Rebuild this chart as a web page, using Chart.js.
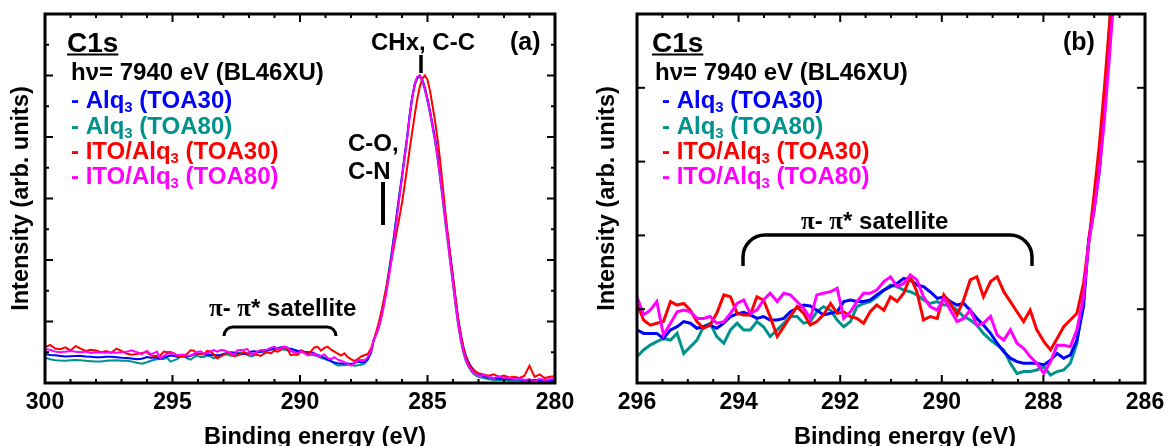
<!DOCTYPE html>
<html>
<head>
<meta charset="utf-8">
<script src="https://cdn.jsdelivr.net/npm/chart.js@4.4.0/dist/chart.umd.min.js"></script>
<style>
  html, body { margin: 0; padding: 0; background: #fff; }
  #wrap { position: relative; width: 1172px; height: 446px; overflow: hidden; }
  canvas { position: absolute; top: 0; }
  #panelA { left: 0; }
  #panelB { left: 590px; }
</style>
</head>
<body>
<div id="wrap">
  <canvas id="panelA" width="590" height="446"></canvas>
  <canvas id="panelB" width="582" height="446"></canvas>
</div>
<script>
// binding energy grid (eV): flat region, satellite region, main peak
const energy = [
  300.0, 299.8, 299.6, 299.4, 299.2, 299.0, 298.8, 298.6, 298.4, 298.2,
  298.0, 297.8, 297.6, 297.4, 297.2, 297.0, 296.8, 296.6, 296.4, 296.2,
  296.00, 295.87, 295.74, 295.61, 295.48, 295.34, 295.21, 295.08, 294.95, 294.82,
  294.69, 294.56, 294.43, 294.29, 294.16, 294.03, 293.90, 293.77, 293.64, 293.51,
  293.38, 293.24, 293.11, 292.98, 292.85, 292.72, 292.59, 292.46, 292.33, 292.19,
  292.06, 291.93, 291.80, 291.67, 291.54, 291.41, 291.28, 291.14, 291.01, 290.88,
  290.75, 290.62, 290.49, 290.36, 290.23, 290.09, 289.96, 289.83, 289.70, 289.57,
  289.44, 289.31, 289.18, 289.04, 288.91, 288.78, 288.65, 288.52, 288.39, 288.26,
  288.13, 287.99, 287.86, 287.73, 287.60, 287.47, 287.34, 287.21, 287.11,
  287.0, 286.9, 286.8, 286.7, 286.6, 286.5, 286.4, 286.3, 286.2, 286.1,
  286.0, 285.9, 285.8, 285.7, 285.6, 285.5, 285.4, 285.3, 285.2, 285.1,
  285.0, 284.9, 284.8, 284.7, 284.6, 284.5, 284.4, 284.3, 284.2, 284.1,
  284.0, 283.9, 283.8, 283.7, 283.6, 283.5, 283.4, 283.3, 283.2, 283.1,
  283.0, 282.8, 282.6, 282.4, 282.2, 282.0, 281.8, 281.6, 281.4, 281.2,
  281.0, 280.8, 280.6, 280.4, 280.2, 280.0
];

// Alq3 (TOA30)
const alqToa30 = [
  0.47, 0.455, 0.45, 0.44, 0.43, 0.435, 0.44, 0.438, 0.43, 0.425,
  0.42, 0.418, 0.425, 0.428, 0.42, 0.41, 0.405, 0.40, 0.385, 0.395,
  0.421, 0.410, 0.410, 0.410, 0.394, 0.421, 0.431, 0.447, 0.442, 0.426,
  0.431, 0.436, 0.426, 0.442, 0.463, 0.471, 0.476, 0.468, 0.457, 0.463,
  0.452, 0.452, 0.457, 0.478, 0.489, 0.499, 0.496, 0.483, 0.468, 0.473,
  0.478, 0.510, 0.515, 0.510, 0.510, 0.515, 0.531, 0.546, 0.557, 0.567,
  0.583, 0.578, 0.562, 0.557, 0.541, 0.520, 0.525, 0.510, 0.499, 0.504,
  0.483, 0.457, 0.436, 0.410, 0.379, 0.352, 0.332, 0.321, 0.316, 0.316,
  0.316, 0.311, 0.326, 0.347, 0.332, 0.342, 0.389, 0.494, 0.704,
  0.80, 0.92, 1.10, 1.32, 1.56, 1.82, 2.10, 2.42, 2.75, 3.05,
  3.35, 3.67, 3.98, 4.35, 4.65, 4.86, 4.97, 5.00, 4.93, 4.80,
  4.62, 4.42, 4.20, 3.98, 3.70, 3.38, 3.05, 2.70, 2.38, 2.05,
  1.72, 1.38, 1.05, 0.80, 0.60, 0.45, 0.35, 0.27, 0.22, 0.18,
  0.15, 0.11, 0.09, 0.08, 0.07, 0.07, 0.06, 0.06, 0.06, 0.05,
  0.05, 0.05, 0.05, 0.04, 0.04, 0.04
];

// Alq3 (TOA80)
const alqToa80 = [
  0.41, 0.385, 0.37, 0.365, 0.362, 0.37, 0.375, 0.37, 0.36, 0.355,
  0.348, 0.35, 0.36, 0.365, 0.37, 0.36, 0.36, 0.35, 0.33, 0.315,
  0.337, 0.358, 0.373, 0.384, 0.394, 0.389, 0.410, 0.347, 0.368, 0.389,
  0.431, 0.442, 0.400, 0.379, 0.421, 0.442, 0.421, 0.421, 0.447, 0.431,
  0.400, 0.421, 0.442, 0.463, 0.463, 0.442, 0.447, 0.478, 0.494, 0.483,
  0.452, 0.431, 0.447, 0.494, 0.504, 0.510, 0.525, 0.546, 0.562, 0.557,
  0.546, 0.541, 0.531, 0.515, 0.504, 0.510, 0.499, 0.499, 0.483, 0.463,
  0.452, 0.436, 0.410, 0.389, 0.373, 0.358, 0.316, 0.284, 0.290, 0.290,
  0.295, 0.305, 0.279, 0.290, 0.295, 0.316, 0.379, 0.525, 0.693,
  0.82, 0.96, 1.15, 1.37, 1.60, 1.86, 2.14, 2.45, 2.77, 3.08,
  3.38, 3.70, 4.00, 4.35, 4.63, 4.84, 4.95, 4.98, 4.90, 4.76,
  4.58, 4.38, 4.15, 3.92, 3.63, 3.30, 2.96, 2.60, 2.27, 1.93,
  1.60, 1.26, 0.95, 0.70, 0.50, 0.36, 0.27, 0.20, 0.15, 0.12,
  0.10, 0.08, 0.06, 0.05, 0.05, 0.05, 0.04, 0.04, 0.04, 0.03,
  0.03, 0.03, 0.03, 0.03, 0.03, 0.03
];

// ITO/Alq3 (TOA30)
const itoToa30 = [
  0.58, 0.62, 0.56, 0.55, 0.58, 0.53, 0.60, 0.56, 0.52, 0.54,
  0.53, 0.50, 0.52, 0.49, 0.56, 0.52, 0.48, 0.46, 0.47, 0.49,
  0.504, 0.452, 0.436, 0.442, 0.447, 0.510, 0.499, 0.504, 0.483, 0.447,
  0.426, 0.436, 0.473, 0.531, 0.525, 0.473, 0.468, 0.468, 0.525, 0.515,
  0.463, 0.400, 0.431, 0.463, 0.494, 0.473, 0.436, 0.447, 0.468, 0.504,
  0.473, 0.478, 0.463, 0.457, 0.442, 0.478, 0.499, 0.483, 0.525, 0.510,
  0.536, 0.588, 0.541, 0.452, 0.463, 0.457, 0.531, 0.504, 0.468, 0.515,
  0.578, 0.588, 0.525, 0.573, 0.588, 0.541, 0.510, 0.478, 0.447, 0.483,
  0.421, 0.384, 0.358, 0.394, 0.431, 0.452, 0.473, 0.567, 0.693,
  0.85, 1.00, 1.18, 1.38, 1.58, 1.80, 2.02, 2.25, 2.48, 2.70,
  2.93, 3.20, 3.50, 3.80, 4.08, 4.36, 4.62, 4.82, 4.95, 5.00,
  4.93, 4.75, 4.50, 4.25, 3.95, 3.60, 3.20, 2.78, 2.40, 2.05,
  1.72, 1.38, 1.05, 0.80, 0.58, 0.42, 0.32, 0.25, 0.21, 0.18,
  0.16, 0.14, 0.12, 0.14, 0.10, 0.12, 0.09, 0.10, 0.08, 0.12,
  0.28, 0.10, 0.14, 0.08, 0.10, 0.11
];

// ITO/Alq3 (TOA80)
const itoToa80 = [
  0.55, 0.54, 0.51, 0.50, 0.51, 0.52, 0.51, 0.50, 0.51, 0.49,
  0.50, 0.495, 0.49, 0.50, 0.49, 0.50, 0.51, 0.53, 0.50, 0.47,
  0.525, 0.468, 0.483, 0.510, 0.405, 0.442, 0.478, 0.483, 0.478, 0.457,
  0.457, 0.463, 0.442, 0.447, 0.473, 0.504, 0.515, 0.473, 0.483, 0.515,
  0.536, 0.510, 0.536, 0.531, 0.510, 0.489, 0.457, 0.531, 0.536, 0.541,
  0.552, 0.457, 0.478, 0.510, 0.536, 0.536, 0.546, 0.573, 0.588, 0.557,
  0.567, 0.594, 0.578, 0.525, 0.494, 0.483, 0.520, 0.483, 0.447, 0.457,
  0.483, 0.436, 0.442, 0.463, 0.405, 0.389, 0.421, 0.379, 0.363, 0.337,
  0.316, 0.284, 0.321, 0.373, 0.373, 0.368, 0.421, 0.525, 0.693,
  0.80, 0.92, 1.08, 1.28, 1.50, 1.76, 2.05, 2.37, 2.70, 3.02,
  3.33, 3.65, 3.97, 4.33, 4.64, 4.86, 4.98, 4.99, 4.92, 4.78,
  4.60, 4.40, 4.17, 3.94, 3.66, 3.33, 3.00, 2.64, 2.30, 1.95,
  1.62, 1.28, 0.97, 0.72, 0.52, 0.38, 0.28, 0.22, 0.17, 0.15,
  0.12, 0.13, 0.10, 0.08, 0.11, 0.08, 0.09, 0.06, 0.07, 0.05,
  0.06, 0.03, 0.07, 0.05, 0.06, 0.07
];

const seriesLabels = ['Alq3 (TOA30)', 'Alq3 (TOA80)', 'ITO/Alq3 (TOA30)', 'ITO/Alq3 (TOA80)'];
const xTicksA = [300, 295, 290, 285, 280];
const xTicksB = [296, 294, 292, 290, 288, 286];

const SANS = '"Liberation Sans", Arial, Helvetica, sans-serif';
const SERIF = '"Liberation Serif", "Times New Roman", serif';
const BLUE = '#0000ff', TEAL = '#00928c', RED = '#ff0000', MAGENTA = '#ff00ff';

// panel (b) is a vertical zoom of the same spectra
const yMinB = 0.254, yStepB = 0.232;

function bold(size, fam) { return 'bold ' + size + 'px ' + (fam || SANS); }

function drawRich(ctx, x, y, parts, align) {
  let w = 0;
  parts.forEach(p => { ctx.font = p[1]; w += ctx.measureText(p[0]).width; });
  let cx = align === 'center' ? x - w / 2 : x;
  parts.forEach(p => {
    ctx.font = p[1];
    ctx.fillStyle = p[2] || '#000';
    ctx.fillText(p[0], cx, y + (p[3] || 0));
    cx += ctx.measureText(p[0]).width;
  });
  return w;
}

function legendLine(ctx, x, y, prefix, suffix, color) {
  drawRich(ctx, x, y, [
    ['- ' + prefix, bold(24), color],
    ['3', bold(15), color, 4],
    [' ' + suffix, bold(24), color]
  ]);
}

function headerBlock(ctx, cx, hx, lx) {
  ctx.textAlign = 'left';
  ctx.textBaseline = 'alphabetic';
  ctx.font = bold(28);
  ctx.fillStyle = '#000';
  ctx.fillText('C1s', cx, 52);
  const w = ctx.measureText('C1s').width;
  ctx.lineWidth = 2;
  ctx.beginPath(); ctx.moveTo(cx, 54.5); ctx.lineTo(cx + w, 54.5); ctx.stroke();
  ctx.font = bold(24);
  ctx.fillText('h\u03bd= 7940 eV (BL46XU)', hx, 80);
  legendLine(ctx, lx, 108, 'Alq', '(TOA30)', BLUE);
  legendLine(ctx, lx, 134, 'Alq', '(TOA80)', TEAL);
  legendLine(ctx, lx, 159, 'ITO/Alq', '(TOA30)', RED);
  legendLine(ctx, lx, 184, 'ITO/Alq', '(TOA80)', MAGENTA);
}

function satelliteLabel(ctx, x, y) {
  drawRich(ctx, x, y, [
    ['\u03c0', bold(25, SERIF)],
    ['- ', bold(24)],
    ['\u03c0', bold(25, SERIF)],
    ['*', bold(24)],
    [' satellite', bold(24)]
  ]);
}

function bracket(ctx, x1, x2, yTop, yEnd, r, lw) {
  ctx.lineWidth = lw;
  ctx.beginPath();
  ctx.moveTo(x1, yEnd);
  ctx.arcTo(x1, yTop, x1 + r, yTop, r);
  ctx.lineTo(x2 - r, yTop);
  ctx.arcTo(x2, yTop, x2, yTop + r, r);
  ctx.lineTo(x2, yEnd);
  ctx.stroke();
}

function xTitle(ctx) {
  ctx.fillStyle = '#000';
  ctx.font = bold(23.5);
  ctx.textAlign = 'center';
  ctx.textBaseline = 'alphabetic';
  ctx.fillText('Binding energy (eV)', 315, 444);
  ctx.textAlign = 'left';
}

function notesA(ctx) {
  headerBlock(ctx, 67, 71, 71);
  ctx.fillStyle = '#000';
  ctx.font = bold(24);
  ctx.textAlign = 'center';
  ctx.fillText('CHx, C-C', 423, 50);
  ctx.textAlign = 'left';
  ctx.font = bold(25);
  ctx.fillText('(a)', 510, 50);
  ctx.font = bold(24);
  ctx.fillText('C-O,', 348, 151);
  ctx.fillText('C-N', 348, 179);
  ctx.lineWidth = 3.5;
  ctx.beginPath(); ctx.moveTo(421, 55); ctx.lineTo(421, 73); ctx.stroke();
  ctx.lineWidth = 4;
  ctx.beginPath(); ctx.moveTo(383, 182); ctx.lineTo(383, 225); ctx.stroke();
  satelliteLabel(ctx, 209, 316);
  bracket(ctx, 224, 336, 327, 336, 9, 3);
  xTitle(ctx);
}

function notesB(ctx) {
  headerBlock(ctx, 62, 65, 72);
  ctx.fillStyle = '#000';
  ctx.font = bold(25);
  ctx.textAlign = 'left';
  ctx.fillText('(b)', 473, 50);
  satelliteLabel(ctx, 211, 229);
  bracket(ctx, 153, 442, 235, 266, 22, 3.5);
  xTitle(ctx);
}

const framePlugin = {
  id: 'frame',
  afterDraw(chart, args, opts) {
    const { ctx, chartArea: a } = chart;
    const xs = chart.scales.x, ys = chart.scales.y;
    ctx.save();
    ctx.strokeStyle = '#000';
    ctx.lineWidth = 2;
    const seg = (x1, y1, x2, y2) => { ctx.beginPath(); ctx.moveTo(x1, y1); ctx.lineTo(x2, y2); ctx.stroke(); };
    const nx = Math.round((xs.max - xs.min) / opts.xMinor);
    for (let i = 0; i <= nx; i++) {
      const v = xs.min + i * opts.xMinor;
      const major = Math.abs(v / opts.xMajor - Math.round(v / opts.xMajor)) < 1e-6;
      const len = major ? 8 : 4;
      const px = xs.getPixelForValue(v);
      seg(px, a.bottom, px, a.bottom - len);
      seg(px, a.top, px, a.top + len);
    }
    opts.yTicks.forEach(t => {
      const py = ys.getPixelForValue(t[0]);
      const len = t[1] ? 8 : 4;
      seg(a.left, py, a.left + len, py);
      seg(a.right, py, a.right - len, py);
    });
    ctx.lineWidth = 3;
    ctx.strokeRect(a.left, a.top, a.right - a.left, a.bottom - a.top);
    opts.notes(ctx);
    ctx.restore();
  }
};

function makeDatasets(width) {
  const sets = [
    { values: alqToa80, color: TEAL, order: 3, label: seriesLabels[1] },
    { values: alqToa30, color: BLUE, order: 2, label: seriesLabels[0] },
    { values: itoToa30, color: RED, order: 1, label: seriesLabels[2] },
    { values: itoToa80, color: MAGENTA, order: 0, label: seriesLabels[3] }
  ];
  return sets.map(s => ({
    label: s.label,
    data: energy.map((e, i) => ({ x: e, y: s.values[i] })),
    borderColor: s.color,
    borderWidth: width,
    pointRadius: 0,
    tension: 0,
    fill: false,
    order: s.order
  }));
}

function buildChart(id, cfg) {
  return new Chart(document.getElementById(id), {
    type: 'line',
    data: { datasets: makeDatasets(cfg.lineWidth) },
    options: {
      responsive: false,
      animation: false,
      devicePixelRatio: 1,
      layout: { padding: { left: 0, right: cfg.padRight, top: 14, bottom: 0 } },
      plugins: {
        legend: { display: false },
        tooltip: { enabled: false },
        frame: { xMinor: cfg.xMinor, xMajor: cfg.xMajor, yTicks: cfg.yTicks, notes: cfg.notes }
      },
      scales: {
        x: {
          type: 'linear',
          reverse: true,
          min: cfg.xMin,
          max: cfg.xMax,
          afterBuildTicks: s => { s.ticks = cfg.xTicks.map(v => ({ value: v })); },
          afterFit: s => { s.height = 63; },
          grid: { display: false, drawTicks: false },
          border: { display: false },
          ticks: {
            color: '#000',
            autoSkip: false,
            maxRotation: 0,
            padding: 6,
            font: { family: SANS, size: 23, weight: 'bold' }
          },
          title: { display: false, text: 'Binding energy (eV)' }
        },
        y: {
          type: 'linear',
          min: cfg.yMin,
          max: cfg.yMax,
          afterFit: s => { s.width = cfg.yWidth; },
          grid: { display: false, drawTicks: false },
          border: { display: false },
          ticks: { display: false },
          title: {
            display: true,
            text: 'Intensity (arb. units)',
            color: '#000',
            font: { family: SANS, size: 23.5, weight: 'bold' },
            padding: { top: cfg.yTitlePad, bottom: 0 }
          }
        }
      }
    },
    plugins: [framePlugin]
  });
}

const yTicksA = [];
for (let i = 0; i <= 12; i++) yTicksA.push([i * 0.5, i % 2 === 0]);
const yTicksB = [];
for (let i = 0; i <= 5; i++) yTicksB.push([yMinB + i * yStepB, true]);

buildChart('panelA', {
  xMin: 280, xMax: 300, xTicks: xTicksA, xMinor: 1, xMajor: 5,
  yMin: 0, yMax: 6, yTicks: yTicksA,
  yWidth: 45, padRight: 35, yTitlePad: 7, lineWidth: 2, notes: notesA
});

buildChart('panelB', {
  xMin: 286, xMax: 296, xTicks: xTicksB, xMinor: 0.5, xMajor: 2,
  yMin: yMinB, yMax: yMinB + 5 * yStepB, yTicks: yTicksB,
  yWidth: 47, padRight: 27, yTitlePad: 3, lineWidth: 3, notes: notesB
});
</script>
</body>
</html>
